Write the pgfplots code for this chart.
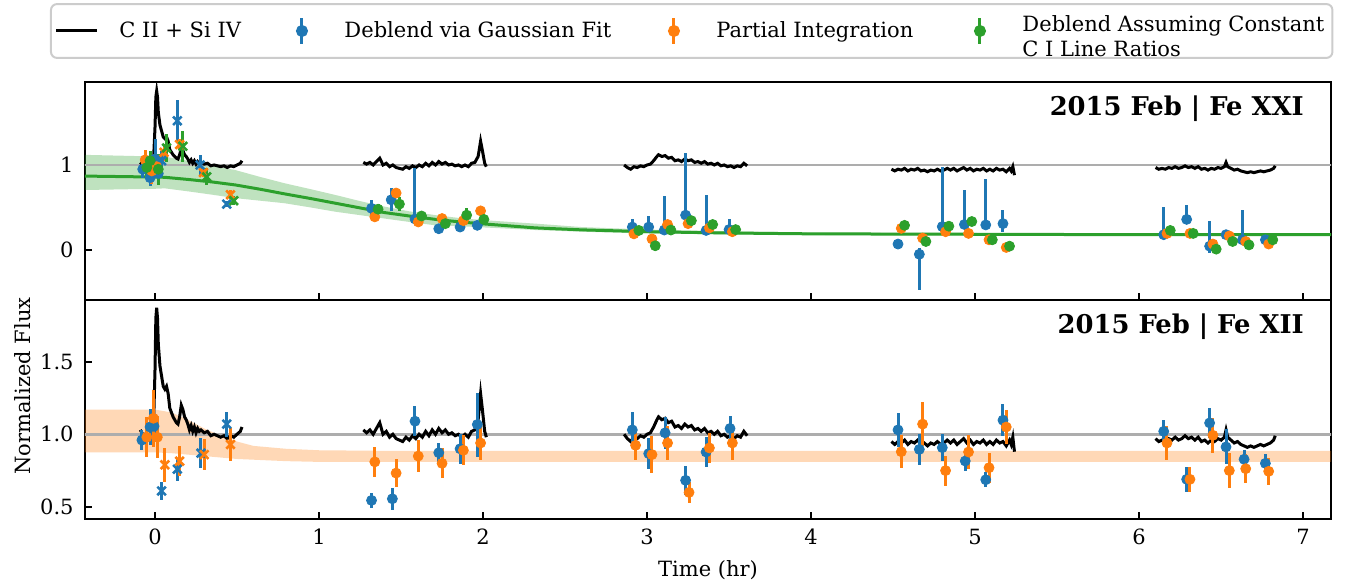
\documentclass[border=0pt]{standalone}
\usepackage{pgfplots}
\pgfplotsset{compat=1.18}
\usepgfplotslibrary{fillbetween}
\usepackage{fontspec}
\setmainfont{DejaVu Serif}
\definecolor{cblue}{HTML}{1F77B4}
\definecolor{corange}{HTML}{FF7F0E}
\definecolor{cgreen}{HTML}{2CA02C}
\pgfplotsset{
  ser/.style={only marks, mark=*, mark size=2.5pt, color=#1, mark options={solid, fill=#1, draw=#1},
    error bars/y dir=both, error bars/y explicit, error bars/error mark=none,
    error bars/error bar style={line width=1.5pt, #1}},
  serx/.style={only marks, mark=x, mark size=3pt, color=#1, mark options={solid, line width=1.3pt},
    error bars/y dir=both, error bars/y explicit, error bars/error mark=none,
    error bars/error bar style={line width=1.5pt, #1}},
  base/.style={scale only axis, width=623pt, xmin=-0.427, xmax=7.17,
    xtick={0,1,2,3,4,5,6,7}, tick align=inside, tick pos=left,
    major tick length=3.5pt, axis line style={line width=0.9pt},
    every tick/.style={line width=0.9pt, black},
    /pgf/number format/assume math mode=true,
    yticklabel style={xshift=-2pt}, xticklabel style={yshift=-1.5pt},
    unbounded coords=jump},
}
\pgfplotstableread{
x y
-0.09 1.03
-0.08 1.01
-0.07 0.99
-0.06 1.00
-0.05 0.98
-0.04 0.97
-0.03 0.99
-0.02 0.98
-0.01 1.02
0.00 1.45
0.005 1.80
0.01 1.87
0.015 1.80
0.02 1.62
0.03 1.47
0.04 1.40
0.05 1.33
0.06 1.31
0.07 1.33
0.08 1.28
0.09 1.18
0.10 1.15
0.11 1.12
0.12 1.10
0.13 1.08
0.14 1.07
0.15 1.12
0.16 1.20
0.17 1.17
0.18 1.12
0.19 1.10
0.20 1.07
0.21 1.03
0.22 1.06
0.23 1.02
0.24 1.05
0.25 1.01
0.26 1.04
0.27 1.02
0.28 1.03
0.30 1.01
0.32 1.02
0.34 0.99
0.36 1.00
0.38 0.99
0.40 0.98
0.42 0.99
0.44 0.97
0.46 0.99
0.48 0.98
0.50 1.00
0.52 1.02
0.53 1.05
0.535 nan
1.27 1.03
1.29 1.01
1.31 1.03
1.33 1.00
1.35 1.04
1.37 1.08
1.39 1.00
1.41 1.02
1.43 0.98
1.45 1.00
1.47 0.97
1.49 0.96
1.51 0.95
1.53 0.98
1.55 0.96
1.57 0.99
1.59 0.97
1.61 1.00
1.63 0.98
1.65 1.02
1.67 0.99
1.69 1.03
1.71 1.00
1.73 1.04
1.75 1.01
1.77 1.03
1.79 1.00
1.81 1.01
1.83 0.99
1.85 1.00
1.87 0.98
1.89 1.00
1.91 0.98
1.93 1.02
1.95 1.03
1.97 1.10
1.985 1.28
1.995 1.18
2.01 1.02
2.02 0.98
2.03 nan
2.86 1.00
2.88 0.97
2.90 0.95
2.92 0.98
2.94 0.97
2.96 0.99
2.98 0.98
3.00 1.00
3.02 1.01
3.04 1.05
3.06 1.10
3.07 1.12
3.09 1.10
3.11 1.11
3.13 1.08
3.15 1.09
3.17 1.05
3.19 1.06
3.21 1.04
3.23 1.07
3.25 1.05
3.27 1.06
3.29 1.03
3.31 1.04
3.33 1.02
3.35 1.04
3.37 1.01
3.39 1.02
3.41 1.00
3.43 1.02
3.45 0.99
3.47 1.00
3.49 0.98
3.51 0.99
3.53 0.97
3.55 0.99
3.57 0.98
3.59 1.02
3.61 0.99
3.62 nan
4.49 0.95
4.51 0.93
4.53 0.95
4.55 0.94
4.57 0.96
4.59 0.93
4.61 0.95
4.63 0.94
4.65 0.96
4.67 0.93
4.69 0.94
4.71 0.92
4.73 0.94
4.75 0.93
4.77 0.95
4.79 0.93
4.81 0.94
4.83 0.96
4.85 0.94
4.87 0.96
4.89 0.93
4.91 0.95
4.93 0.97
4.95 0.94
4.97 0.96
4.99 0.93
5.01 0.95
5.03 0.94
5.05 0.96
5.07 0.93
5.09 0.95
5.11 0.93
5.13 0.96
5.15 0.94
5.17 0.95
5.19 0.92
5.21 0.96
5.22 0.93
5.23 0.98
5.24 0.88
5.25 nan
6.10 0.97
6.12 0.95
6.14 0.96
6.16 0.95
6.18 0.97
6.20 0.96
6.22 0.98
6.24 0.96
6.26 0.97
6.28 0.99
6.30 0.97
6.32 0.98
6.34 0.96
6.36 0.98
6.38 0.95
6.40 0.96
6.42 0.94
6.44 0.96
6.46 0.95
6.48 0.97
6.50 0.96
6.52 0.98
6.53 1.03
6.54 0.98
6.56 0.96
6.58 0.94
6.60 0.95
6.62 0.93
6.64 0.92
6.66 0.91
6.68 0.92
6.70 0.91
6.72 0.92
6.74 0.93
6.76 0.92
6.78 0.93
6.80 0.94
6.82 0.96
6.83 0.99
}\lc
\pgfplotstableread{
x lo mid hi
-0.45 0.705 0.870 1.12
0.0 0.72 0.858 1.10
0.06 0.725 0.855 1.098
0.2 0.69 0.83 1.05
0.35 0.65 0.80 0.99
0.49 0.61 0.765 0.94
0.64 0.58 0.715 0.86
0.79 0.55 0.66 0.785
0.95 0.50 0.605 0.715
1.10 0.45 0.55 0.647
1.25 0.41 0.495 0.575
1.40 0.37 0.44 0.51
1.55 0.33 0.40 0.455
1.71 0.29 0.36 0.41
1.86 0.28 0.33 0.375
2.01 0.265 0.306 0.35
2.32 0.235 0.26 0.31
2.6 0.215 0.237 0.27
3.0 0.195 0.215 0.24
3.5 0.183 0.20 0.22
4.0 0.177 0.19 0.205
5.0 0.17 0.185 0.20
6.0 0.165 0.18 0.195
7.3 0.165 0.18 0.195
}\topband
\pgfplotstableread{
x lo hi
-0.45 0.875 1.17
0.0 0.875 1.17
0.1 0.87 1.15
0.2 0.86 1.10
0.3 0.85 1.04
0.4 0.84 0.99
0.5 0.83 0.95
0.6 0.825 0.92
0.8 0.815 0.90
1.0 0.81 0.89
1.5 0.81 0.885
7.3 0.81 0.885
}\botband
\begin{document}
\fontsize{10.5}{12.6}\selectfont
\begin{tikzpicture}
% bottom panel
\begin{axis}[base, height=109.5pt, ymin=0.417, ymax=1.924,
  ytick={0.5,1.0,1.5}, yticklabel style={/pgf/number format/.cd, fixed, fixed zerofill, precision=1},
  xlabel={Time (hr)},
  ylabel={Normalized Flux},
  every axis y label/.style={at={(rel axis cs:-0.0502,0.607)}, rotate=90, anchor=center},
  every axis x label/.style={at={(rel axis cs:0.5,0)}, anchor=north, yshift=-17pt}]
\addplot[black!32, line width=1.3pt, forget plot] coordinates {(-1,1) (8,1)};
\addplot[draw=none, name path=bl, forget plot] table[x=x,y=lo] {\botband};
\addplot[draw=none, name path=bh, forget plot] table[x=x,y=hi] {\botband};
\addplot[corange, fill opacity=0.3, draw=none, forget plot] fill between[of=bl and bh];
\addplot[black, line width=1.5pt, forget plot] table[x=x,y=y] {\lc};
\addplot[ser=cblue] table[x=x,y=y,y error plus=e,y error minus=e] {
x y e
-0.08 0.96 0.07
-0.03 1.05 0.126
-0.006 1.055 0.08
1.32 0.545 0.054
1.447 0.556 0.075
1.585 1.09 0.103
1.73 0.873 0.069
1.86 0.90 0.103
1.965 1.067 0.22
2.91 1.03 0.12
3.01 0.867 0.109
3.11 1.01 0.109
3.235 0.683 0.098
3.36 0.878 0.106
3.506 1.04 0.086
4.53 1.03 0.115
4.66 0.896 0.109
4.80 0.908 0.092
4.94 0.816 0.069
5.065 0.687 0.052
5.17 1.097 0.109
6.15 1.02 0.08
6.29 0.69 0.086
6.43 1.078 0.103
6.53 0.913 0.12
6.64 0.828 0.063
6.77 0.80 0.063
};
\addplot[serx=cblue] table[x=x,y=y,y error plus=e,y error minus=e] {
x y e
0.04 0.61 0.063
0.136 0.76 0.08
0.28 0.87 0.103
0.437 1.07 0.086
};
\addplot[ser=corange] table[x=x,y=y,y error plus=e,y error minus=e] {
x y e
-0.05 0.98 0.138
-0.01 1.11 0.195
0.014 0.98 0.144
1.34 0.81 0.103
1.47 0.733 0.098
1.605 0.85 0.109
1.75 0.80 0.103
1.88 0.89 0.103
1.985 0.94 0.115
2.93 0.924 0.103
3.03 0.86 0.126
3.125 0.94 0.12
3.256 0.60 0.075
3.38 0.906 0.103
3.52 0.94 0.115
4.55 0.88 0.115
4.68 1.07 0.149
4.82 0.75 0.103
4.96 0.878 0.12
5.085 0.77 0.103
5.19 1.05 0.12
6.17 0.94 0.115
6.31 0.69 0.086
6.45 0.993 0.12
6.55 0.75 0.12
6.65 0.763 0.098
6.79 0.745 0.092
};
\addplot[serx=corange] table[x=x,y=y,y error plus=e,y error minus=e] {
x y e
0.06 0.79 0.115
0.15 0.815 0.103
0.30 0.86 0.109
0.46 0.93 0.115
};
\node[anchor=north east, font=\bfseries\fontsize{12.9}{15}\selectfont] at (rel axis cs:0.984,0.972) {2015 Feb | Fe XII};
\end{axis}
% top panel
\begin{axis}[base, at={(0pt,109.5pt)}, height=109pt, ymin=-0.588, ymax=1.976,
  ytick={0,1}, xticklabels={},
  legend columns=4,
  legend style={at={(-0.0281,1.362)}, anchor=north west, draw=black!20, rounded corners=3pt,
    line width=1pt, column sep=0pt, inner xsep=2pt, inner ysep=3pt,
    cells={anchor=west}},
  legend cell align=left]
\addplot[black!32, line width=1.3pt, forget plot] coordinates {(-1,1) (8,1)};
\addplot[draw=none, name path=tl, forget plot] table[x=x,y=lo] {\topband};
\addplot[draw=none, name path=th, forget plot] table[x=x,y=hi] {\topband};
\addplot[cgreen, fill opacity=0.3, draw=none, forget plot] fill between[of=tl and th];
\addplot[cgreen, line width=1.5pt, forget plot] table[x=x,y=mid] {\topband};
\addplot[black, line width=1.5pt, forget plot] table[x=x,y=y] {\lc};
\addplot[ser=cblue, forget plot] table[x=x,y=y,y error plus=ep,y error minus=em] {
x y ep em
-0.075 0.95 0.1 0.1
-0.03 0.85 0.1 0.1
0.0 1.07 0.24 0.1
0.02 0.90 0.12 0.12
1.32 0.49 0.1 0.1
1.44 0.59 0.14 0.13
1.585 0.365 0.6 0.02
1.73 0.25 0.03 0.03
1.86 0.27 0.03 0.03
1.965 0.29 0.04 0.04
2.91 0.27 0.09 0.03
3.01 0.27 0.13 0.03
3.105 0.235 0.4 0.03
3.235 0.41 0.735 0.03
3.36 0.23 0.42 0.03
3.50 0.24 0.13 0.03
4.53 0.07 0.05 0.03
4.66 -0.05 0.07 0.42
4.80 0.275 0.7 0.03
4.935 0.30 0.405 0.03
5.065 0.295 0.545 0.03
5.17 0.31 0.16 0.1
6.15 0.18 0.33 0.03
6.29 0.36 0.17 0.06
6.43 0.045 0.295 0.085
6.53 0.18 0.03 0.03
6.63 0.12 0.35 0.03
6.77 0.12 0.03 0.03
};
\addplot[serx=cblue, forget plot] table[x=x,y=y,y error plus=e,y error minus=e] {
x y e
0.04 1.05 0.12
0.136 1.52 0.25
0.275 1.0 0.12
0.437 0.54 0.04
};
\addplot[ser=corange, forget plot] table[x=x,y=y,y error plus=e,y error minus=e] {
x y e
-0.06 1.06 0.12
-0.02 0.93 0.15
0.01 0.98 0.12
1.34 0.39 0.04
1.47 0.67 0.05
1.605 0.33 0.03
1.75 0.37 0.03
1.88 0.345 0.03
1.985 0.46 0.03
2.92 0.19 0.03
3.03 0.13 0.03
3.125 0.30 0.03
3.25 0.31 0.03
3.38 0.26 0.03
3.52 0.215 0.03
4.55 0.255 0.03
4.68 0.14 0.03
4.82 0.215 0.03
4.96 0.195 0.03
5.085 0.12 0.03
5.19 0.03 0.03
6.17 0.195 0.03
6.31 0.195 0.03
6.45 0.07 0.03
6.55 0.165 0.03
6.65 0.10 0.03
6.79 0.07 0.03
};
\addplot[serx=corange, forget plot] table[x=x,y=y,y error plus=e,y error minus=e] {
x y e
0.055 1.15 0.1
0.15 1.24 0.06
0.295 0.91 0.05
0.46 0.65 0.05
};
\addplot[ser=cgreen, forget plot] table[x=x,y=y,y error plus=e,y error minus=e] {
x y e
-0.05 0.97 0.1
-0.03 1.05 0.12
0.02 0.95 0.18
1.36 0.48 0.06
1.49 0.54 0.08
1.625 0.40 0.03
1.77 0.31 0.03
1.90 0.41 0.08
2.005 0.36 0.03
2.95 0.23 0.03
3.05 0.05 0.03
3.145 0.235 0.03
3.27 0.345 0.03
3.40 0.30 0.03
3.54 0.24 0.03
4.57 0.29 0.03
4.70 0.10 0.03
4.84 0.28 0.03
4.98 0.335 0.03
5.105 0.12 0.03
5.21 0.045 0.03
6.19 0.23 0.03
6.33 0.195 0.03
6.47 0.01 0.03
6.57 0.10 0.03
6.67 0.06 0.03
6.815 0.12 0.03
};
\addplot[serx=cgreen, forget plot] table[x=x,y=y,y error plus=e,y error minus=e] {
x y e
0.07 1.2 0.17
0.17 1.22 0.18
0.315 0.86 0.1
0.48 0.58 0.05
};
\addlegendimage{legend image code/.code={\path (0pt,-7pt) (29pt,7pt); \draw[black, line width=1.5pt] (0pt,0pt) -- (20.5pt,0pt);}}
\addlegendentry{\makebox[78.5pt][l]{C II + Si IV}}
\addlegendimage{legend image code/.code={\path (0pt,-7pt) (29pt,7pt); \draw[cblue, line width=1.5pt] (10.25pt,-6.5pt) -- (10.25pt,6.5pt); \fill[cblue] (10.25pt,0pt) circle (2.5pt);}}
\addlegendentry{\makebox[152pt][l]{Deblend via Gaussian Fit}}
\addlegendimage{legend image code/.code={\path (0pt,-7pt) (29pt,7pt); \draw[corange, line width=1.5pt] (10.25pt,-6.5pt) -- (10.25pt,6.5pt); \fill[corange] (10.25pt,0pt) circle (2.5pt);}}
\addlegendentry{\makebox[119pt][l]{Partial Integration}}
\addlegendimage{legend image code/.code={\path (0pt,-7pt) (29pt,7pt); \draw[cgreen, line width=1.5pt] (10.25pt,-6.5pt) -- (10.25pt,6.5pt); \fill[cgreen] (10.25pt,0pt) circle (2.5pt);}}
\addlegendentry{\begin{tabular}{@{}l@{}}Deblend Assuming Constant\\C I Line Ratios\end{tabular}}
\node[anchor=north east, font=\bfseries\fontsize{12.9}{15}\selectfont] at (rel axis cs:0.984,0.972) {2015 Feb | Fe XXI};
\end{axis}
\path (-42.5pt,-34pt) rectangle (631.5pt,259.5pt);
\end{tikzpicture}
\end{document}
